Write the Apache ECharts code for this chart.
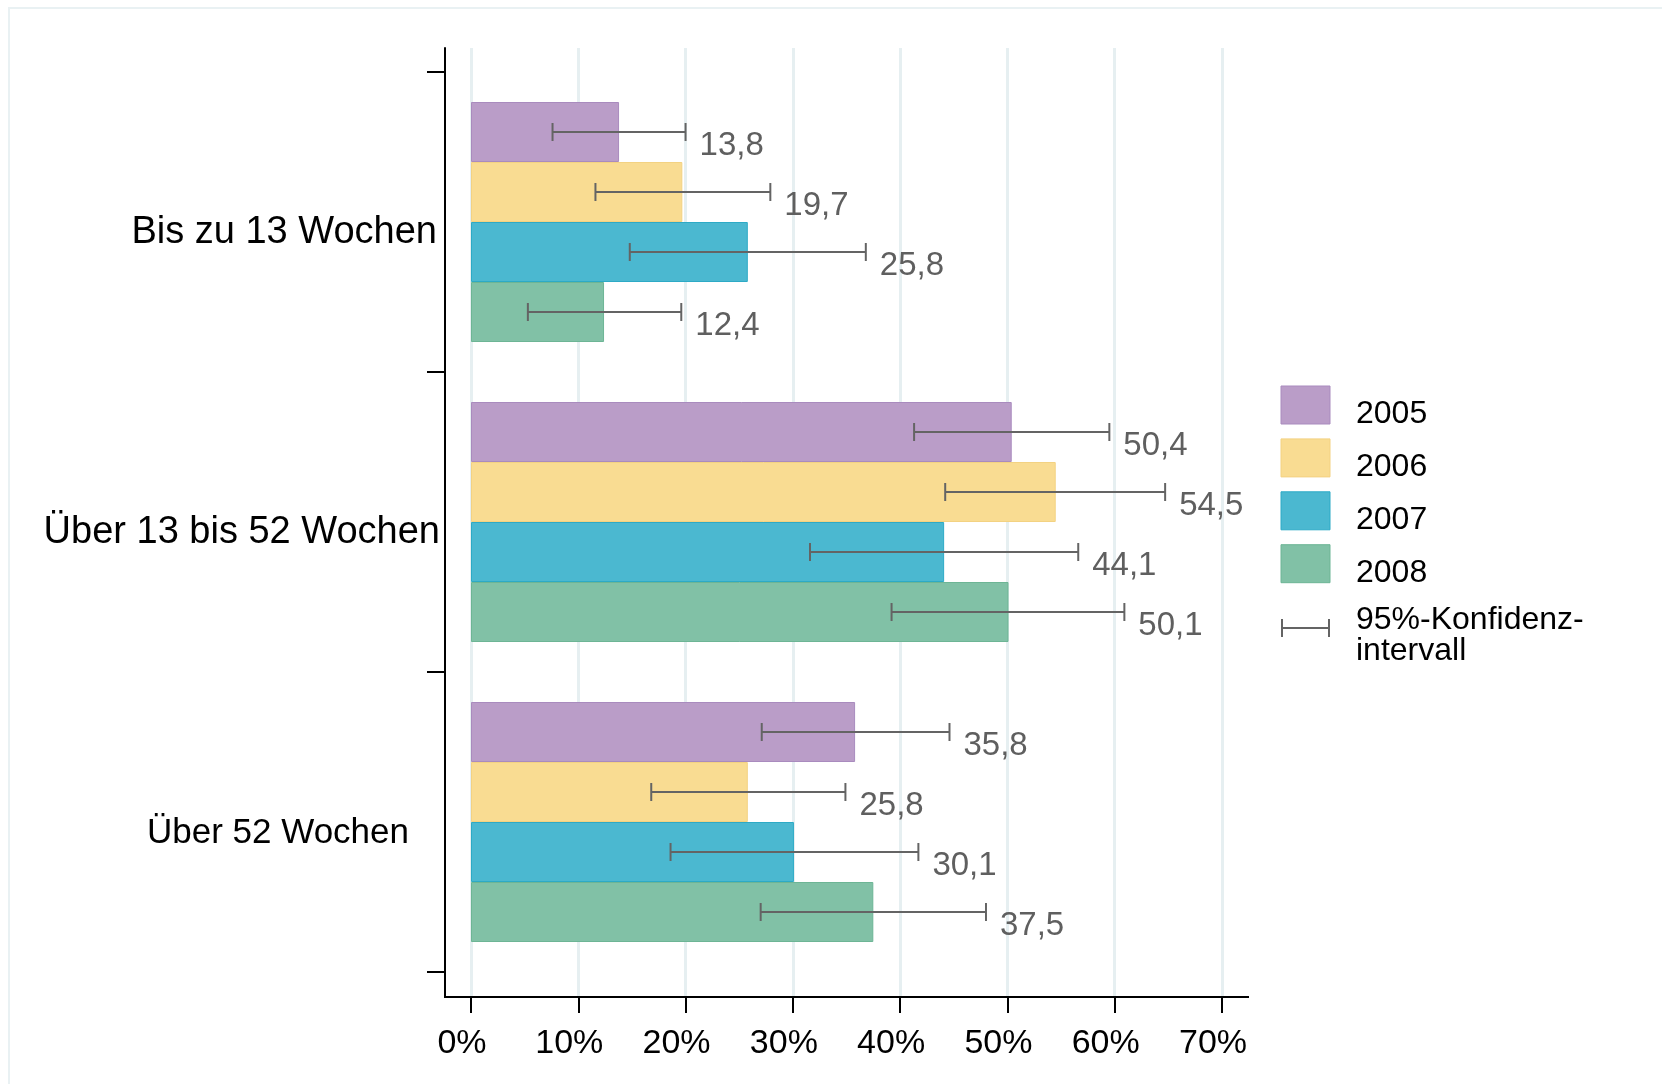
<!DOCTYPE html>
<html>
<head>
<meta charset="utf-8">
<script src="https://cdn.jsdelivr.net/npm/echarts@6/dist/echarts.min.js"></script>
<style>
html,body{margin:0;padding:0;background:#fff;}
#chart{width:1662px;height:1084px;}
</style>
</head>
<body>
<div id="chart"></div>
<script>
const categories = ['Bis zu 13 Wochen', 'Über 13 bis 52 Wochen', 'Über 52 Wochen'];
const years = ['2005', '2006', '2007', '2008'];
const xTicks = [0, 10, 20, 30, 40, 50, 60, 70];

const v2005 = [13.8, 50.4, 35.8];
const v2006 = [19.7, 54.5, 25.8];
const v2007 = [25.8, 44.1, 30.1];
const v2008 = [12.4, 50.1, 37.5];

const lo2005 = [7.6, 41.3, 27.1];
const hi2005 = [20.0, 59.5, 44.6];
const lo2006 = [11.6, 44.2, 16.8];
const hi2006 = [27.9, 64.7, 34.9];
const lo2007 = [14.8, 31.6, 18.6];
const hi2007 = [36.8, 56.6, 41.7];
const lo2008 = [5.3, 39.2, 27.0];
const hi2008 = [19.6, 60.9, 48.0];

const ciLabel = '95%-Konfidenz-\nintervall';

const values = [v2005, v2006, v2007, v2008];
const lows = [lo2005, lo2006, lo2007, lo2008];
const highs = [hi2005, hi2006, hi2007, hi2008];

const fills = ['#BA9DC8', '#F9DC92', '#4BB8D0', '#81C1A6'];
const borders = ['#A98BBE', '#F3D282', '#2DAAC6', '#6DB595'];
const FONT = '"Liberation Sans", Arial, Helvetica, sans-serif';

const BAR_GAP_RATIO = 0.2;

const errData = [];
years.forEach((y, yi) => {
  categories.forEach((c, ci) => {
    errData.push([ci, yi, lows[yi][ci], highs[yi][ci], values[yi][ci]]);
  });
});

const barSeries = years.map((y, i) => ({
  name: y,
  type: 'bar',
  xAxisIndex: 0,
  yAxisIndex: 0,
  data: values[i],
  barGap: '0%',
  barCategoryGap: (BAR_GAP_RATIO * 100) + '%',
  itemStyle: { color: fills[i], borderColor: borders[i], borderWidth: 1 },
  emphasis: { disabled: true },
  z: 2
}));

const errSeries = {
  type: 'custom',
  name: 'ci',
  xAxisIndex: 0,
  yAxisIndex: 0,
  data: errData,
  encode: { x: [2, 3], y: 0 },
  z: 5,
  silent: true,
  renderItem: function (params, api) {
    const cat = api.value(0);
    const yi = api.value(1);
    const lo = api.value(2);
    const hi = api.value(3);
    const val = api.value(4);
    const band = api.size([0, 1])[1];
    const center = api.coord([0, cat])[1];
    const barH = band * (1 - BAR_GAP_RATIO) / years.length;
    const y = center - band * (1 - BAR_GAP_RATIO) / 2 + (yi + 0.5) * barH;
    const x1 = api.coord([lo, cat])[0];
    const x2 = api.coord([hi, cat])[0];
    const cap = 9;
    const st = { stroke: '#646464', lineWidth: 2 };
    return {
      type: 'group',
      children: [
        { type: 'line', shape: { x1: x1, y1: y, x2: x2, y2: y }, style: st },
        { type: 'line', shape: { x1: x1, y1: y - cap, x2: x1, y2: y + cap }, style: st },
        { type: 'line', shape: { x1: x2, y1: y - cap, x2: x2, y2: y + cap }, style: st },
        {
          type: 'text',
          x: x2 + 14,
          y: y + 14,
          style: {
            text: val.toFixed(1).replace('.', ','),
            fill: '#5F5F5F',
            font: '33px ' + FONT,
            align: 'left',
            verticalAlign: 'middle'
          }
        }
      ]
    };
  }
};

// legend drawn as graphic entries built from the year names and fill colours
const LEG_X = 1281, LEG_Y = 386, LEG_STEP = 52.9;
const legendGraphics = [];
years.forEach((y, i) => {
  legendGraphics.push({
    type: 'rect', silent: true,
    shape: { x: LEG_X, y: LEG_Y + i * LEG_STEP, width: 49, height: 38 },
    style: { fill: fills[i], stroke: borders[i], lineWidth: 1 }
  });
  legendGraphics.push({
    type: 'text', silent: true,
    x: 1356, y: LEG_Y + 19 + 7 + 2 + i * LEG_STEP,
    style: { text: y, font: '32px ' + FONT, fill: '#000', verticalAlign: 'middle', align: 'left' }
  });
});

const chart = echarts.init(document.getElementById('chart'), null, { renderer: 'canvas' });

chart.setOption({
  animation: false,
  backgroundColor: '#ffffff',
  textStyle: { fontFamily: FONT },
  grid: [
    { left: 471, right: 440, top: 72, height: 900 },
    { left: 471, right: 440, top: 48, height: 949 },
    { left: 471, right: 440, top: 83, height: 900 }
  ],
  xAxis: [
    { type: 'value', gridIndex: 0, min: 0, max: 70, show: false },
    {
      type: 'value', gridIndex: 1, min: 0, max: 70, interval: 10,
      axisLine: { show: false },
      axisTick: { show: true, length: 16, lineStyle: { color: '#000', width: 2 } },
      axisLabel: {
        formatter: '{value}%', fontSize: 34, color: '#000', margin: 30, fontFamily: FONT,
        padding: [0, 18, 0, 0]
      },
      splitLine: { show: true, lineStyle: { color: '#E6EFF1', width: 3 } }
    },
    { type: 'value', gridIndex: 2, min: 0, max: 70, show: false }
  ],
  yAxis: [
    {
      type: 'category', gridIndex: 0, inverse: true,
      data: categories,
      offset: 26,
      axisLine: { show: false, onZero: false },
      axisTick: { show: true, length: 18, lineStyle: { color: '#000', width: 2 } },
      axisLabel: { show: false },
      splitLine: { show: false }
    },
    {
      type: 'value', gridIndex: 1, min: 0, max: 1, offset: 26,
      axisLine: { show: true, onZero: false, lineStyle: { color: '#000', width: 2 } },
      axisTick: { show: false }, axisLabel: { show: false }, splitLine: { show: false }
    },
    {
      type: 'category', gridIndex: 2, inverse: true,
      data: categories.map((c, i) => ({
        value: c,
        textStyle: i === 2
          ? { fontSize: 35, padding: [0, 31, 0, 0] }
          : { padding: [0, i === 0 ? 3 : 0, 0, 0] }
      })),
      offset: 26,
      axisLine: { show: false, onZero: false },
      axisTick: { show: false },
      axisLabel: { fontSize: 38, color: '#000', margin: 5, fontFamily: FONT },
      splitLine: { show: false }
    }
  ],
  graphic: [
    {
      type: 'rect', silent: true, z: -10,
      shape: { x: 9, y: 8, width: 1700, height: 1100 },
      style: { fill: 'none', stroke: '#E9F1F3', lineWidth: 2 }
    },
    {
      type: 'line', silent: true, z: 10,
      shape: { x1: 444, y1: 997, x2: 1249, y2: 997 },
      style: { stroke: '#000', lineWidth: 2 }
    },
    {
      type: 'group', silent: true,
      children: legendGraphics.concat([
        { type: 'line', shape: { x1: 1282, y1: 628, x2: 1330, y2: 628 }, style: { stroke: '#646464', lineWidth: 2 } },
        { type: 'line', shape: { x1: 1282, y1: 619, x2: 1282, y2: 637 }, style: { stroke: '#646464', lineWidth: 2 } },
        { type: 'line', shape: { x1: 1329, y1: 619, x2: 1329, y2: 637 }, style: { stroke: '#646464', lineWidth: 2 } },
        {
          type: 'text', x: 1356, y: 605,
          style: { text: ciLabel, font: '32px ' + FONT, fill: '#000', lineHeight: 31, verticalAlign: 'top', align: 'left' }
        }
      ])
    }
  ],
  series: barSeries.concat([errSeries])
});
</script>
</body>
</html>
